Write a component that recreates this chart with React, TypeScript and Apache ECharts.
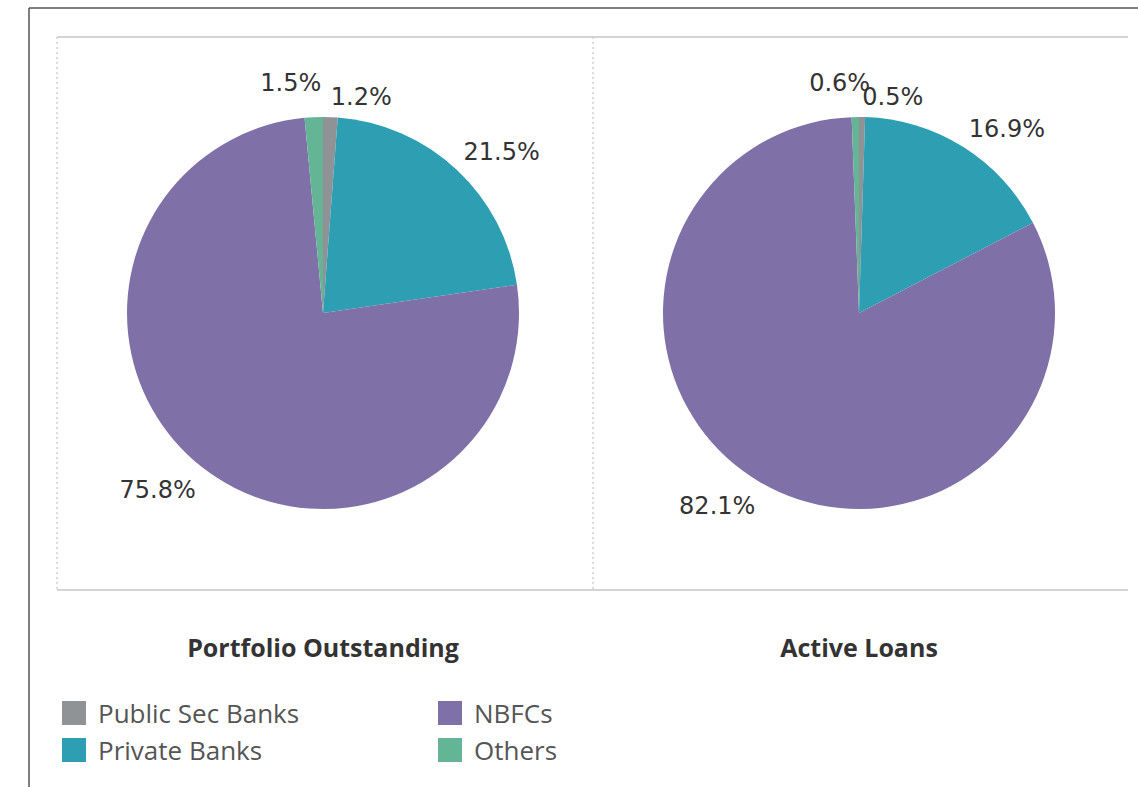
import React, { useEffect, useRef } from "react";
import * as echarts from "echarts";

const categories = ["Public Sec Banks", "Private Banks", "NBFCs", "Others"];
const colors = ["#8f9396", "#2e9fb3", "#7f70a8", "#64b596"];
const portfolioValues = [1.2, 21.5, 75.8, 1.5];
const activeLoanValues = [0.5, 16.9, 82.1, 0.6];
const chartTitles = ["Portfolio Outstanding", "Active Loans"];

const LABEL_FONT = "'DejaVu Sans', sans-serif";
const UI_FONT = "'Open Sans', 'Noto Sans', sans-serif";
const PIE_CY = 313;

function makePie(values: number[], cx: number, othersShift: [number, number]) {
  return {
    type: "pie",
    center: [cx, PIE_CY],
    radius: 196,
    startAngle: 90,
    clockwise: true,
    avoidLabelOverlap: false,
    silent: true,
    data: categories.map((name, i) => ({
      name,
      value: values[i],
      itemStyle: { color: colors[i] },
    })),
    label: {
      show: true,
      position: "outside",
      distanceToLabelLine: 0,
      formatter: (p: any) => `${p.value.toFixed(1)}%`,
      fontFamily: LABEL_FONT,
      fontSize: 24,
      color: "#333333",
    },
    labelLine: { show: false, length: 10, length2: 0 },
    labelLayout: (params: any) => {
      const r = params.labelRect;
      const midY = r.y + r.height / 2;
      const top = midY < PIE_CY;
      let dx = 0;
      let dy = top ? -r.height / 2 + 2 : r.height / 2 + 3;
      // small slice left of the top is nudged up, like the source's overlap handling
      if (params.dataIndex === 3) {
        dx += othersShift[0];
        dy += othersShift[1];
      }
      return { dx, dy };
    },
    itemStyle: { borderWidth: 0 },
    emphasis: { disabled: true },
  };
}

function makeLegend(names: string[], left: number) {
  return {
    data: names,
    orient: "vertical",
    left,
    top: 700,
    padding: 0,
    icon: "rect",
    itemWidth: 24,
    itemHeight: 24,
    itemGap: 11,
    selectedMode: false,
    textStyle: {
      fontFamily: UI_FONT,
      fontSize: 26,
      color: "#555555",
      padding: [0, 0, 0, 7],
    },
  };
}

export default function App() {
  const ref = useRef<HTMLDivElement>(null);
  useEffect(() => {
    if (!ref.current) return;
    const chart = echarts.init(ref.current, undefined, { renderer: "svg" });
    const lineStyle = { stroke: "#d4d4d4", lineWidth: 2 };
    const dotStyle = { stroke: "#cfcfcf", lineWidth: 1.5, lineDash: [2, 3] };
    chart.setOption({
      animation: false,
      backgroundColor: "#ffffff",
      title: chartTitles.map((t, i) => ({
        text: t,
        left: i === 0 ? 323 : 859,
        top: 634,
        padding: 0,
        textAlign: "center",
        textStyle: {
          fontFamily: UI_FONT,
          fontWeight: "bold",
          fontSize: 25,
          color: "#333333",
        },
      })),
      legend: [
        makeLegend(categories.slice(0, 2), 62),
        makeLegend(categories.slice(2, 4), 438),
      ],
      graphic: [
        { type: "line", shape: { x1: 29, y1: 8, x2: 1138, y2: 8 }, style: { stroke: "#555555", lineWidth: 1.5 } },
        { type: "line", shape: { x1: 29, y1: 8, x2: 29, y2: 787 }, style: { stroke: "#555555", lineWidth: 1.5 } },
        { type: "line", shape: { x1: 57, y1: 37, x2: 1128, y2: 37 }, style: lineStyle },
        { type: "line", shape: { x1: 57, y1: 590, x2: 1128, y2: 590 }, style: lineStyle },
        { type: "line", shape: { x1: 57, y1: 37, x2: 57, y2: 590 }, style: dotStyle },
        { type: "line", shape: { x1: 593, y1: 37, x2: 593, y2: 590 }, style: dotStyle },
      ],
      series: [
        makePie(portfolioValues, 323, [8, -14]),
        makePie(activeLoanValues, 859, [15, -14]),
      ],
    });
    return () => chart.dispose();
  }, []);
  return (
    <div
      ref={ref}
      style={{ position: "fixed", left: 0, top: 0, width: 1138, height: 787 }}
    />
  );
}
